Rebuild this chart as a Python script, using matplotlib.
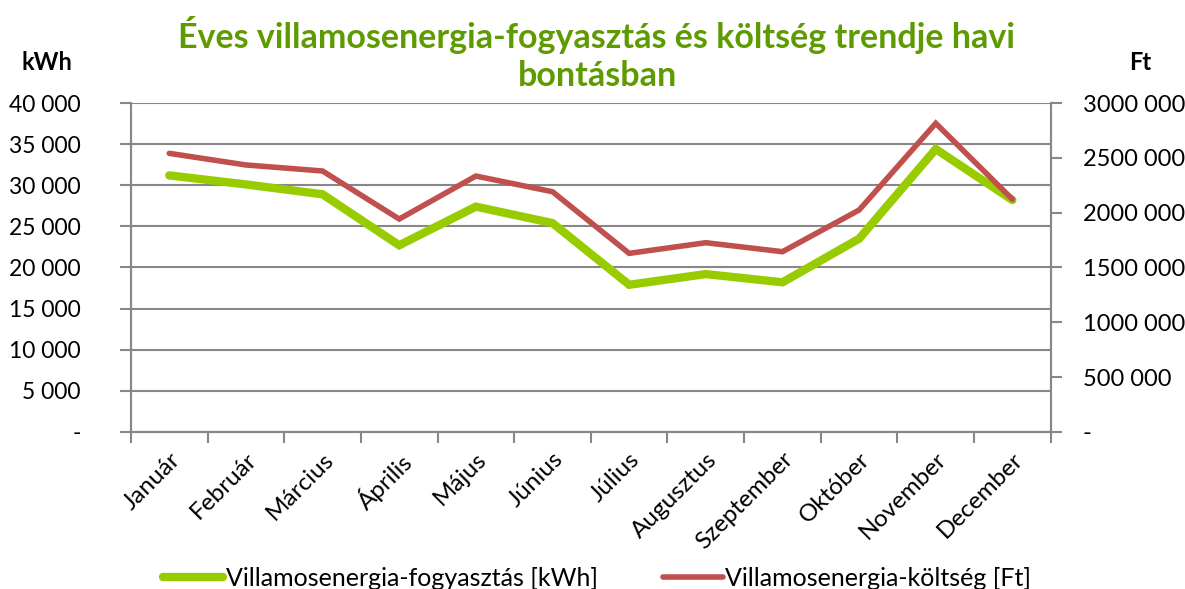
import matplotlib
matplotlib.use("Agg")
import matplotlib.pyplot as plt
import numpy as np

plt.rcParams["font.family"] = ["Lato", "DejaVu Sans"]

months = ["Január", "Február", "Március", "Április", "Május", "Június",
          "Július", "Augusztus", "Szeptember", "Október", "November", "December"]
kwh = [31200, 30100, 28900, 22700, 27400, 25400, 17900, 19200, 18200, 23500, 34400, 28200]
cost_ft = [2541000, 2435000, 2380000, 1942000, 2334000, 2191000,
           1629000, 1726000, 1644000, 2024000, 2815000, 2122000]

left_ticks = [0, 5000, 10000, 15000, 20000, 25000, 30000, 35000, 40000]
left_labels = ["-", "5 000", "10 000", "15 000", "20 000", "25 000", "30 000", "35 000", "40 000"]
right_ticks = [0, 500000, 1000000, 1500000, 2000000, 2500000, 3000000]
right_labels = ["-", "500 000", "1000 000", "1500 000", "2000 000", "2500 000", "3000 000"]

title = "Éves villamosenergia-fogyasztás és költség trendje havi\nbontásban"
label_kwh = "Villamosenergia-fogyasztás [kWh]"
label_ft = "Villamosenergia-költség [Ft]"

GREEN = "#99CC00"
RED = "#C0504D"
GRID = "#878787"
TITLE_GREEN = "#5E9B00"

fig = plt.figure(figsize=(11.85, 5.89), dpi=100)
ax = fig.add_axes([0.1105, 0.2666, 0.7762, 0.5585])
ax2 = ax.twinx()

x = np.arange(len(months))
ln1, = ax.plot(x, kwh, color=GREEN, lw=6.0, solid_capstyle="round",
               solid_joinstyle="miter", label=label_kwh, zorder=3)
ln2, = ax2.plot(x, cost_ft, color=RED, lw=4.0, solid_capstyle="round",
                solid_joinstyle="miter", label=label_ft, zorder=3)

ax.set_xlim(-0.5, len(months) - 0.5)
ax.set_ylim(0, 40000)
ax2.set_ylim(0, 3000000)

ax.set_yticks(left_ticks)
ax.set_yticklabels(left_labels)
ax2.set_yticks(right_ticks)
ax2.set_yticklabels(right_labels)

# category boundaries get the tick marks, names sit between them
ax.set_xticks(np.arange(-0.5, len(months), 1.0))
ax.set_xticklabels([])
ax.set_xticks(x, minor=True)
ax.set_xticklabels(months, minor=True, rotation=45, ha="right",
                   rotation_mode="anchor", fontsize=17.5)
ax.tick_params(axis="x", which="minor", length=0, pad=12)
ax.tick_params(axis="x", which="major", length=8, width=1.5, color=GRID, direction="out")

ax.tick_params(axis="y", length=8, width=1.5, color=GRID, labelsize=16.5, pad=28)
ax2.tick_params(axis="y", length=8, width=1.5, color=GRID, labelsize=17, pad=15)

ax.yaxis.grid(True, color=GRID, lw=1.5)
ax.set_axisbelow(True)
for a in (ax, ax2):
    for s in a.spines.values():
        s.set_color(GRID)
        s.set_linewidth(1.5)
    a.spines["top"].set_visible(False)

fig.text(597 / 1185, 1 - 54 / 589, title, ha="center", va="center",
         fontsize=24.5, fontweight="bold", color=TITLE_GREEN, linespacing=1.2)
fig.text(47 / 1185, 1 - 63 / 589, "kWh", ha="center", va="center",
         fontsize=17, fontweight="bold")
fig.text(1140 / 1185, 1 - 63 / 589, "Ft", ha="center", va="center",
         fontsize=17, fontweight="bold")

fig.legend([ln1, ln2], [label_kwh, label_ft], loc="lower center",
           bbox_to_anchor=(597 / 1185, -0.04), ncol=2, frameon=False,
           fontsize=18, handlelength=2.4, handletextpad=0.1, columnspacing=2.6)

fig.savefig("out.png", dpi=100)
